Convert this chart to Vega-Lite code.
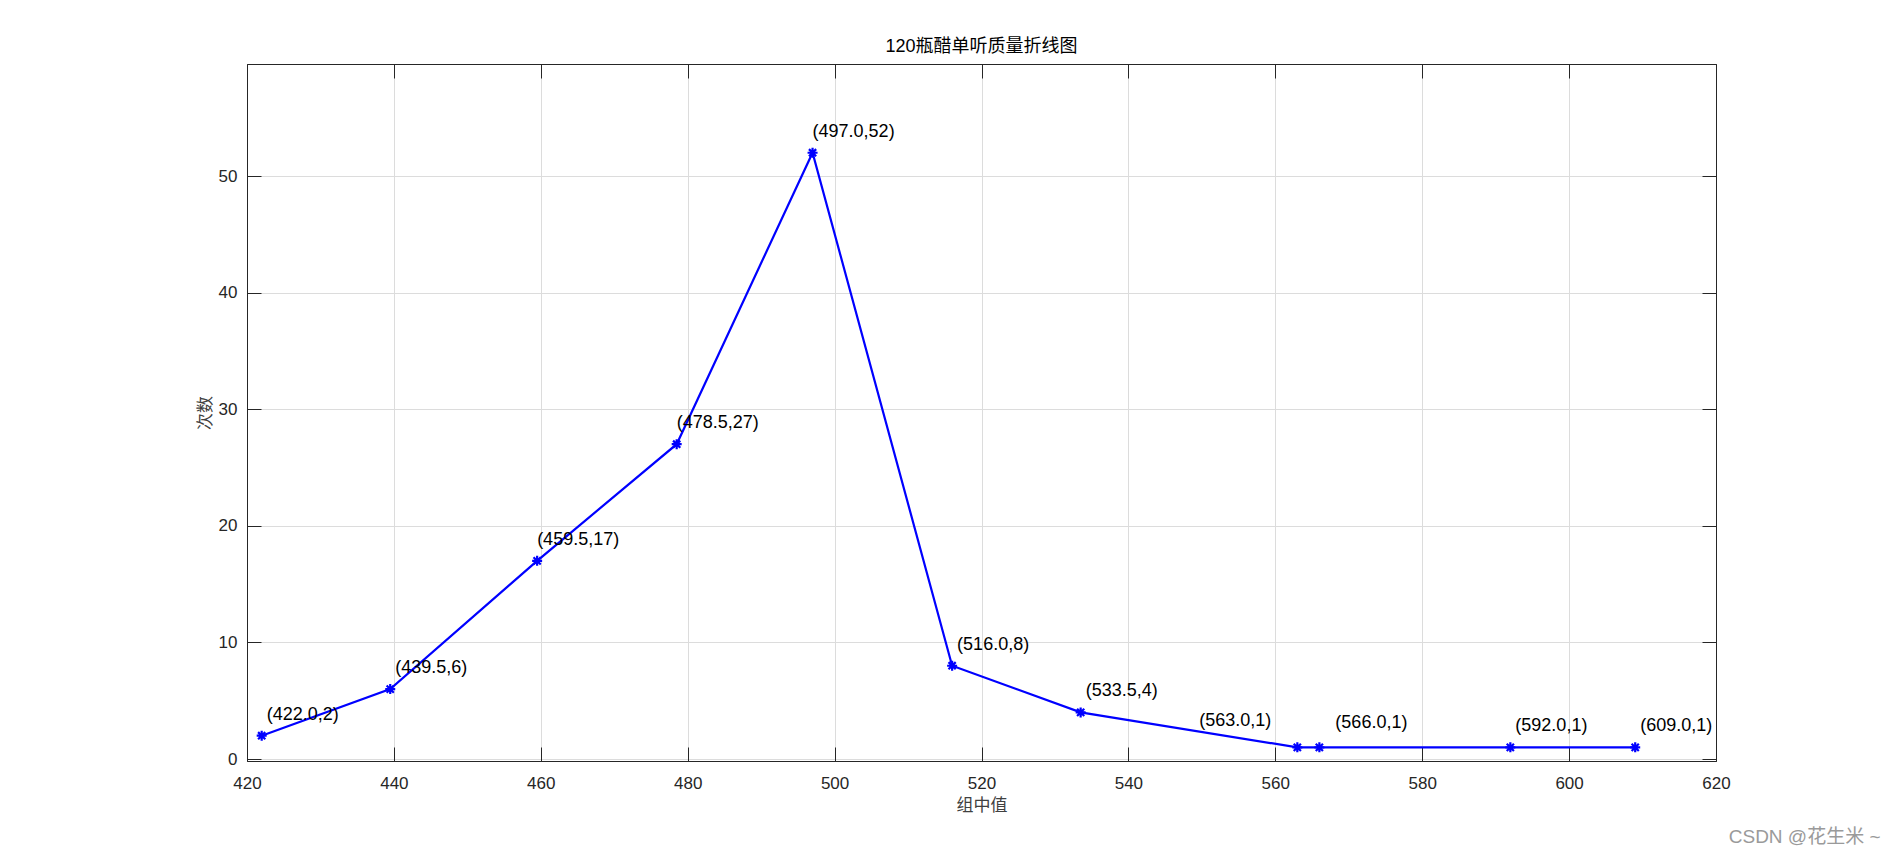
{
  "$schema": "https://vega.github.io/schema/vega-lite/v6.json",
  "width": 1469,
  "height": 697,
  "autosize": {"type": "none"},
  "padding": {"left": 247, "top": 64, "right": 180, "bottom": 95},
  "background": "white",
  "title": {
    "text": "120瓶醋单听质量折线图",
    "fontSize": 18,
    "fontWeight": "normal",
    "font": "Liberation Sans, Noto Sans CJK SC",
    "color": "#000000",
    "offset": 8
  },
  "config": {
    "view": {"stroke": "#262626", "strokeWidth": 1},
    "axis": {
      "labelFont": "Liberation Sans",
      "labelFontSize": 17,
      "labelColor": "#262626",
      "titleFont": "Noto Sans CJK SC",
      "titleFontSize": 17,
      "titleFontWeight": "normal",
      "titleColor": "#404040",
      "domainColor": "#262626",
      "tickColor": "#262626",
      "gridColor": "#dcdcdc",
      "gridWidth": 1
    }
  },
  "datasets": {
    "pts": [
      {"x": 422.0, "y": 2, "label": "(422.0,2)"},
      {"x": 439.5, "y": 6, "label": "(439.5,6)"},
      {"x": 459.5, "y": 17, "label": "(459.5,17)"},
      {"x": 478.5, "y": 27, "label": "(478.5,27)"},
      {"x": 497.0, "y": 52, "label": "(497.0,52)"},
      {"x": 516.0, "y": 8, "label": "(516.0,8)"},
      {"x": 533.5, "y": 4, "label": "(533.5,4)"},
      {"x": 563.0, "y": 1, "label": "(563.0,1)"},
      {"x": 566.0, "y": 1, "label": "(566.0,1)"},
      {"x": 592.0, "y": 1, "label": "(592.0,1)"},
      {"x": 609.0, "y": 1, "label": "(609.0,1)"}
    ]
  },
  "layer": [
    {
      "data": {"name": "pts"},
      "mark": {"type": "line", "color": "#0000ff", "strokeWidth": 2.2},
      "encoding": {
        "x": {
          "field": "x", "type": "quantitative",
          "scale": {"domain": [420, 620], "nice": false, "zero": false},
          "axis": {
            "orient": "bottom", "title": "组中值", "values": [420, 440, 460, 480, 500, 520, 540, 560, 580, 600, 620],
            "grid": true, "tickSize": -14, "labelPadding": 28, "titlePadding": 6, "labelFlush": false
          }
        },
        "y": {
          "field": "y", "type": "quantitative",
          "scale": {"domain": [-0.17, 59.61], "nice": false, "zero": false},
          "axis": {
            "orient": "left", "title": "次数", "values": [0, 10, 20, 30, 40, 50],
            "grid": true, "tickSize": -14, "labelPadding": 24, "titlePadding": 4, "labelFlush": false
          }
        }
      }
    },
    {
      "data": {"name": "pts"},
      "mark": {
        "type": "point",
        "shape": "M-1,0L1,0M0,-1L0,1M-0.72,-0.72L0.72,0.72M-0.72,0.72L0.72,-0.72",
        "filled": false,
        "color": "#0000ff",
        "strokeWidth": 2.2,
        "size": 100,
        "opacity": 1
      },
      "encoding": {
        "x": {
          "field": "x", "type": "quantitative",
          "scale": {"domain": [420, 620], "nice": false, "zero": false},
          "axis": {
            "orient": "top", "title": null, "labels": false, "grid": false,
            "values": [420, 440, 460, 480, 500, 520, 540, 560, 580, 600, 620], "tickSize": -14
          }
        },
        "y": {
          "field": "y", "type": "quantitative",
          "scale": {"domain": [-0.17, 59.61], "nice": false, "zero": false},
          "axis": {
            "orient": "right", "title": null, "labels": false, "grid": false,
            "values": [0, 10, 20, 30, 40, 50], "tickSize": -14
          }
        }
      }
    },
    {
      "data": {"name": "pts"},
      "transform": [{"filter": "datum.x != 563 && datum.x != 566 && datum.x != 459.5 && datum.x != 478.5 && datum.x != 497"}],
      "mark": {"type": "text", "align": "left", "baseline": "alphabetic", "dx": 5, "dy": -16, "font": "Liberation Sans", "fontSize": 18, "color": "#000000"},
      "encoding": {
        "x": {"field": "x", "type": "quantitative", "axis": null},
        "y": {"field": "y", "type": "quantitative", "axis": null},
        "text": {"field": "label"}
      }
    },
    {
      "data": {"name": "pts"},
      "transform": [{"filter": "datum.x == 459.5 || datum.x == 478.5 || datum.x == 497"}],
      "mark": {"type": "text", "align": "left", "baseline": "alphabetic", "dx": 0, "dy": -16, "font": "Liberation Sans", "fontSize": 18, "color": "#000000"},
      "encoding": {
        "x": {"field": "x", "type": "quantitative", "axis": null},
        "y": {"field": "y", "type": "quantitative", "axis": null},
        "text": {"field": "label"}
      }
    },
    {
      "data": {"name": "pts"},
      "transform": [{"filter": "datum.x == 563"}],
      "mark": {"type": "text", "align": "right", "baseline": "alphabetic", "dx": -26, "dy": -21, "font": "Liberation Sans", "fontSize": 18, "color": "#000000"},
      "encoding": {
        "x": {"field": "x", "type": "quantitative", "axis": null},
        "y": {"field": "y", "type": "quantitative", "axis": null},
        "text": {"field": "label"}
      }
    },
    {
      "data": {"name": "pts"},
      "transform": [{"filter": "datum.x == 566"}],
      "mark": {"type": "text", "align": "left", "baseline": "alphabetic", "dx": 16, "dy": -19, "font": "Liberation Sans", "fontSize": 18, "color": "#000000"},
      "encoding": {
        "x": {"field": "x", "type": "quantitative", "axis": null},
        "y": {"field": "y", "type": "quantitative", "axis": null},
        "text": {"field": "label"}
      }
    },
    {
      "data": {"values": [{"x": 642.4, "y": -7.24, "t": "CSDN @花生米 ~"}]},
      "mark": {"type": "text", "align": "right", "baseline": "alphabetic", "font": "Liberation Sans, Noto Sans CJK SC", "fontSize": 19, "color": "#9a9a9a"},
      "encoding": {
        "x": {"field": "x", "type": "quantitative", "axis": null},
        "y": {"field": "y", "type": "quantitative", "axis": null},
        "text": {"field": "t"}
      }
    }
  ],
  "resolve": {"axis": {"x": "independent", "y": "independent"}}
}
